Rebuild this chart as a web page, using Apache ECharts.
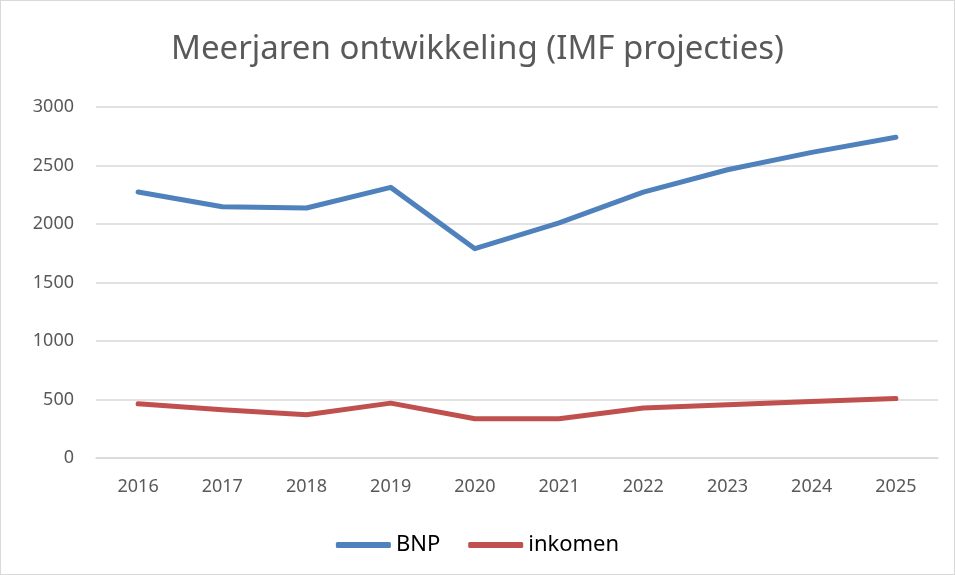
<!DOCTYPE html>
<html>
<head>
<meta charset="utf-8">
<script src="https://cdn.jsdelivr.net/npm/echarts@6/dist/echarts.min.js"></script>
<style>
  html, body { margin: 0; padding: 0; background: #fff; }
  #chart { width: 953px; height: 573px; border: 1px solid #d9d9d9; }
</style>
</head>
<body>
<div id="chart"></div>
<script>
  // data
  var years = ['2016', '2017', '2018', '2019', '2020', '2021', '2022', '2023', '2024', '2025'];
  var bnp = [2274, 2148, 2137, 2313, 1789, 2010, 2272, 2464, 2612, 2741];
  var inkomen = [463, 412, 370, 469, 336, 336, 427, 455, 483, 508];

  var font = '"Noto Sans", "Liberation Sans", sans-serif';
  var chart = echarts.init(document.getElementById('chart'));
  chart.setOption({
    animation: false,
    title: {
      text: 'Meerjaren ontwikkeling (IMF projecties)',
      left: 'center',
      top: 27,
      textStyle: { fontFamily: font, fontSize: 33, fontWeight: 'normal', color: '#595959' }
    },
    legend: {
      bottom: 13,
      left: 'center',
      itemWidth: 55,
      itemHeight: 6,
      itemGap: 28,
      icon: 'roundRect',
      textStyle: { fontFamily: font, fontSize: 22, color: '#000' },
      data: ['BNP', 'inkomen']
    },
    grid: { left: 95, right: 16, top: 106, bottom: 116 },
    xAxis: {
      type: 'category',
      data: years,
      boundaryGap: true,
      axisLine: { lineStyle: { color: '#d9d9d9', width: 1.5 } },
      axisTick: { show: false },
      axisLabel: { fontFamily: font, fontSize: 18, color: '#595959', margin: 20 }
    },
    yAxis: {
      type: 'value',
      min: 0,
      max: 3000,
      interval: 500,
      axisLine: { show: false },
      axisTick: { show: false },
      splitLine: { lineStyle: { color: '#d9d9d9', width: 1.5 } },
      axisLabel: {
        fontFamily: font, fontSize: 18, color: '#595959', margin: 22,
        formatter: function (v) { return String(v); }
      }
    },
    series: [
      {
        name: 'BNP',
        type: 'line',
        data: bnp,
        symbol: 'none',
        lineStyle: { color: '#4f81bd', width: 5, cap: 'round', join: 'round' },
        itemStyle: { color: '#4f81bd' }
      },
      {
        name: 'inkomen',
        type: 'line',
        data: inkomen,
        symbol: 'none',
        lineStyle: { color: '#c0504d', width: 5, cap: 'round', join: 'round' },
        itemStyle: { color: '#c0504d' }
      }
    ]
  });
</script>
</body>
</html>
